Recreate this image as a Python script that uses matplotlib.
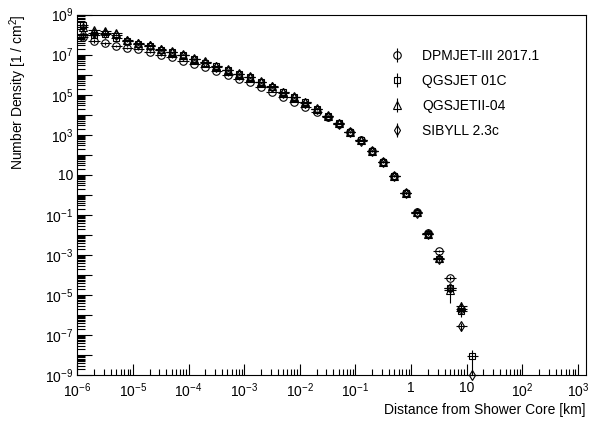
import numpy as np
import matplotlib
matplotlib.use("Agg")
import matplotlib.pyplot as plt
from matplotlib.ticker import FixedLocator, NullFormatter, FixedFormatter
from matplotlib.container import ErrorbarContainer
from matplotlib.legend_handler import HandlerErrorbar

plt.rcParams["font.family"] = ["Liberation Sans", "DejaVu Sans"]
plt.rcParams["mathtext.default"] = "regular"

# log10 of bin centres (km)
log_r = [-5.9, -5.7, -5.5, -5.3, -5.1, -4.9, -4.7, -4.5, -4.3, -4.1,
         -3.9, -3.7, -3.5, -3.3, -3.1, -2.9, -2.7, -2.5, -2.3, -2.1,
         -1.9, -1.7, -1.5, -1.3, -1.1, -0.9, -0.7, -0.5, -0.3, -0.1,
         0.1, 0.3, 0.5, 0.7, 0.9, 1.1]
half_bin = 0.1  # half bin width in decades

labels = ["DPMJET-III 2017.1", "QGSJET 01C", "QGSJETII-04", "SIBYLL 2.3c"]

# log10 of number density [1/cm^2]; nan = no entry
dpmjet = [7.86, 7.68, 7.57, 7.42, 7.35, 7.27, 7.12, 6.98, 6.86, 6.70,
          6.53, 6.39, 6.19, 5.98, 5.78, 5.64, 5.40, 5.15, 4.90, 4.65,
          4.37, 4.15, 3.90, 3.55, 3.13, 2.72, 2.20, 1.67, 0.95, 0.10,
          -0.86, -1.90, -2.79, -4.12, -5.70, np.nan]
qgsjet01 = [8.48, 7.98, 8.05, 7.85, 7.68, 7.52, 7.42, 7.24, 7.11, 6.98,
            6.77, 6.60, 6.41, 6.23, 6.04, 5.87, 5.62, 5.41, 5.12, 4.88,
            4.62, 4.29, 3.95, 3.57, 3.15, 2.72, 2.20, 1.65, 0.95, 0.10,
            -0.88, -1.93, -3.17, -4.62, -5.80, -8.05]
qgsjet2 = [8.40, 8.22, 8.20, 8.10, 7.72, 7.56, 7.46, 7.27, 7.13, 7.00,
           6.79, 6.62, 6.42, 6.24, 6.05, 5.88, 5.63, 5.42, 5.13, 4.89,
           4.63, 4.30, 3.96, 3.58, 3.16, 2.73, 2.21, 1.66, 0.96, 0.11,
           -0.87, -1.92, -3.15, -4.75, -5.55, np.nan]
sibyll = [8.02, 8.08, 8.06, 7.98, 7.70, 7.54, 7.44, 7.25, 7.12, 6.99,
          6.78, 6.61, 6.40, 6.22, 6.03, 5.86, 5.61, 5.40, 5.11, 4.87,
          4.61, 4.28, 3.94, 3.56, 3.14, 2.71, 2.19, 1.64, 0.94, 0.09,
          -0.89, -1.94, -3.18, -4.65, -6.55, -8.98]

# relative statistical errors
err_dpmjet = [0.30, 0.20, 0.15, 0.12, 0.10, 0.08, 0.07, 0.06, 0.05, 0.05,
              0.05, 0.05, 0.05, 0.05, 0.05, 0.05, 0.05, 0.05, 0.05, 0.05,
              0.05, 0.05, 0.05, 0.05, 0.05, 0.05, 0.05, 0.05, 0.06, 0.08,
              0.10, 0.12, 0.15, 0.25, 0.35, 0.0]
err_qgsjet01 = [0.35, 0.20, 0.15, 0.12, 0.10, 0.08, 0.07, 0.06, 0.05, 0.05,
                0.05, 0.05, 0.05, 0.05, 0.05, 0.05, 0.05, 0.05, 0.05, 0.05,
                0.05, 0.05, 0.05, 0.05, 0.05, 0.05, 0.05, 0.05, 0.06, 0.08,
                0.10, 0.15, 0.20, 0.35, 0.45, 1.0]
err_qgsjet2 = [0.35, 0.20, 0.15, 0.12, 0.10, 0.08, 0.07, 0.06, 0.05, 0.05,
               0.05, 0.05, 0.05, 0.05, 0.05, 0.05, 0.05, 0.05, 0.05, 0.05,
               0.05, 0.05, 0.05, 0.05, 0.05, 0.05, 0.05, 0.05, 0.06, 0.08,
               0.10, 0.15, 0.20, 0.78, 0.60, 0.0]
err_sibyll = [0.30, 0.20, 0.15, 0.12, 0.10, 0.08, 0.07, 0.06, 0.05, 0.05,
              0.05, 0.05, 0.05, 0.05, 0.05, 0.05, 0.05, 0.05, 0.05, 0.05,
              0.05, 0.05, 0.05, 0.05, 0.05, 0.05, 0.05, 0.05, 0.06, 0.08,
              0.10, 0.15, 0.20, 0.30, 0.40, 0.0]

series = [(dpmjet, err_dpmjet, "o", 5.4, True),
          (qgsjet01, err_qgsjet01, "s", 4.9, True),
          (qgsjet2, err_qgsjet2, "^", 5.4, True),
          (sibyll, err_sibyll, "d", 5.0, False)]

fig = plt.figure(figsize=(5.96, 4.23), dpi=100)
ax = fig.add_axes([0.1297, 0.1123, 0.8535, 0.8534])

lr = np.array(log_r)
x = 10.0 ** lr
xlo = x - 10.0 ** (lr - half_bin)
xhi = 10.0 ** (lr + half_bin) - x

handles = []
for (vals, errs, mk, ms, clip), lab in zip(series, labels):
    v = np.array(vals)
    m = ~np.isnan(v)
    y = 10.0 ** v[m]
    e = np.array(errs)[m] * y
    h = ax.errorbar(x[m], y, xerr=[xlo[m], xhi[m]], yerr=e, fmt=mk, ms=ms,
                    mfc="none", mec="black", mew=0.8, ecolor="black",
                    elinewidth=0.8, capsize=0, label=lab)
    if not clip:
        for art in h.get_children():
            art.set_clip_on(False)
    handles.append(h)

ax.set_xscale("log")
ax.set_yscale("log")
ax.set_xlim(1e-6, 10 ** 3.144)
ax.set_ylim(1e-9, 1e9)

# x ticks
xmaj = [10.0 ** k for k in range(-6, 4)]
xlab = ["$10^{-6}$", "$10^{-5}$", "$10^{-4}$", "$10^{-3}$", "$10^{-2}$",
        "$10^{-1}$", "1", "10", "$10^{2}$", "$10^{3}$"]
ax.xaxis.set_major_locator(FixedLocator(xmaj))
ax.xaxis.set_major_formatter(FixedFormatter(xlab))
xmin_t = [m * 10.0 ** k for k in range(-6, 3) for m in range(2, 10)]
ax.xaxis.set_minor_locator(FixedLocator(xmin_t))
ax.xaxis.set_minor_formatter(NullFormatter())

# y ticks
ymaj = [10.0 ** k for k in range(-9, 10)]
ylab_map = {9: "$10^{9}$", 7: "$10^{7}$", 5: "$10^{5}$", 3: "$10^{3}$",
            1: "10", -1: "$10^{-1}$", -3: "$10^{-3}$", -5: "$10^{-5}$",
            -7: "$10^{-7}$", -9: "$10^{-9}$"}
ylab = [ylab_map.get(k, "") for k in range(-9, 10)]
ax.yaxis.set_major_locator(FixedLocator(ymaj))
ax.yaxis.set_major_formatter(FixedFormatter(ylab))
ymin_t = [m * 10.0 ** k for k in range(-9, 9) for m in range(2, 10)]
ax.yaxis.set_minor_locator(FixedLocator(ymin_t))
ax.yaxis.set_minor_formatter(NullFormatter())

ax.tick_params(axis="x", which="major", direction="in", length=8, width=0.8,
               labelsize=10, pad=4, top=False)
ax.tick_params(axis="x", which="minor", direction="in", length=4, width=0.8,
               top=False)
ax.tick_params(axis="y", which="major", direction="in", length=10.8, width=0.8,
               labelsize=10, pad=3, right=False)
ax.tick_params(axis="y", which="minor", direction="in", length=5.4, width=0.8,
               right=False)
for s in ax.spines.values():
    s.set_linewidth(0.8)

ax.set_xlabel("Distance from Shower Core [km]", fontsize=10, loc="right")
ax.xaxis.set_label_coords(1.0, -0.0956)
ax.xaxis.label.set_va("center")
ax.set_ylabel("Number Density [1 / cm$^{2}$]", fontsize=10, loc="top")
ax.yaxis.set_label_coords(-0.1166, 1.0)
ax.yaxis.label.set_va("center")

leg = ax.legend(handles=handles, labels=labels, loc="upper left",
                bbox_to_anchor=(390 / 596, 1 - 49 / 423),
                bbox_transform=fig.transFigure, frameon=False, fontsize=10,
                handlelength=1.0, handletextpad=1.3, labelspacing=0.78,
                borderpad=0, borderaxespad=0,
                handler_map={ErrorbarContainer: HandlerErrorbar(xerr_size=0, yerr_size=0.5)})

fig.savefig("out.png", dpi=100)
